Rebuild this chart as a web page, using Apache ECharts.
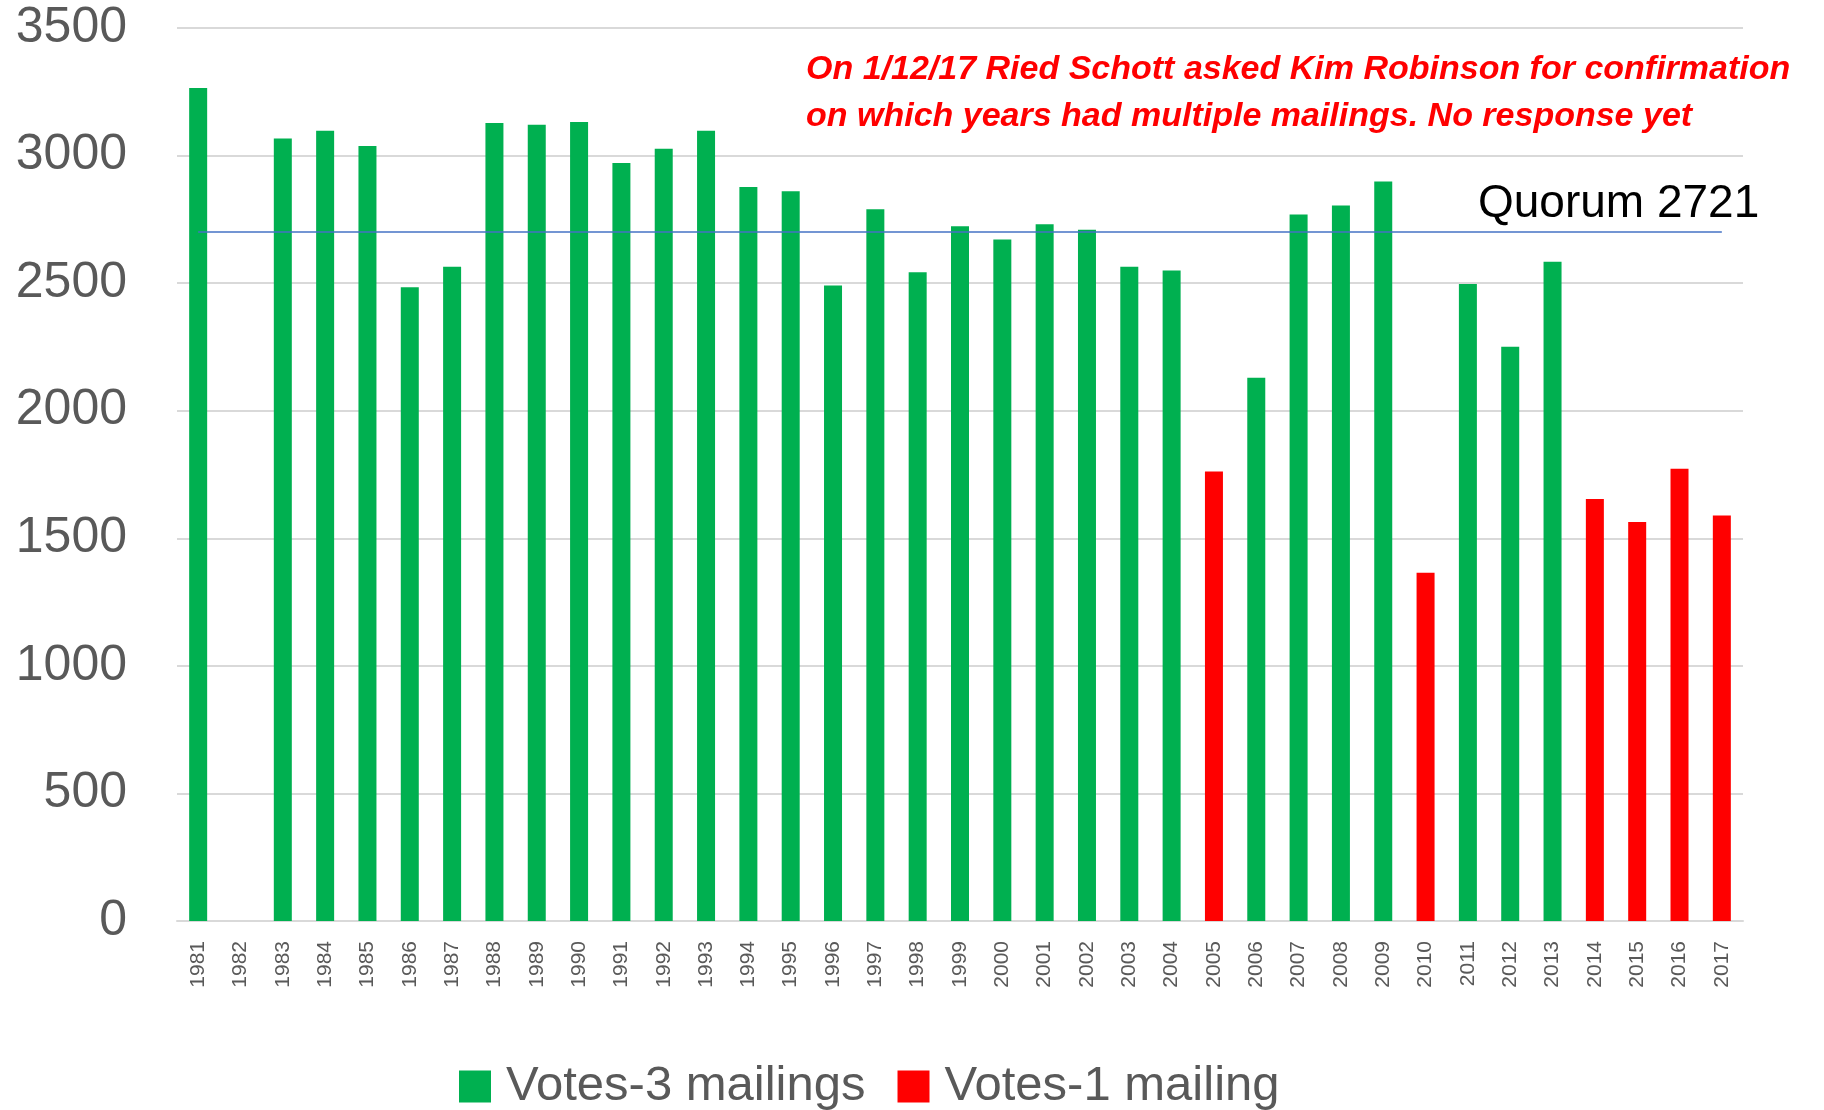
<!DOCTYPE html>
<html>
<head>
<meta charset="utf-8">
<script src="https://cdn.jsdelivr.net/npm/echarts@6/dist/echarts.min.js"></script>
<style>
  html, body { margin: 0; padding: 0; background: #fff; }
  #chart { width: 1824px; height: 1110px; }
</style>
</head>
<body>
<div id="chart"></div>
<script>
const years = [
  "1981", "1982", "1983", "1984", "1985", "1986", "1987", "1988", "1989", "1990",
  "1991", "1992", "1993", "1994", "1995", "1996", "1997", "1998", "1999", "2000",
  "2001", "2002", "2003", "2004", "2005", "2006", "2007", "2008", "2009", "2010",
  "2011", "2012", "2013", "2014", "2015", "2016", "2017"
];
// 3 mailings (green), "-" = no bar
const votes3 = [
  3265, "-", 3067, 3097, 3038, 2484, 2564, 3128, 3121, 3132,
  2971, 3027, 3097, 2877, 2860, 2491, 2790, 2543, 2723, 2671,
  2731, 2709, 2564, 2550, "-", 2129, 2769, 2804, 2898, "-",
  2497, 2251, 2584, "-", "-", "-", "-"
];
// 1 mailing (red)
const votes1 = [
  "-", "-", "-", "-", "-", "-", "-", "-", "-", "-",
  "-", "-", "-", "-", "-", "-", "-", "-", "-", "-",
  "-", "-", "-", "-", 1762, "-", "-", "-", "-", 1365,
  "-", "-", "-", 1654, 1564, 1773, 1589
];
const yTicks = [0, 500, 1000, 1500, 2000, 2500, 3000, 3500];
const quorumLine = 2700;
const quorumText = "Quorum 2721";
const noteLines = [
  "On 1/12/17 Ried Schott asked Kim Robinson for confirmation",
  "on which years had multiple mailings. No response yet"
];

const chart = echarts.init(document.getElementById("chart"));
const font = "Liberation Sans";

const options = {
  animation: false,
  grid: { left: 177, right: 81, top: 28, bottom: 189 },
  legend: {
    left: 454,
    top: 1057,
    itemWidth: 32,
    itemHeight: 32,
    itemGap: 32,
    icon: "rect",
    textStyle: { color: "#595959", fontSize: 49, fontFamily: font, padding: [0, 0, 0, 10] },
    data: ["Votes-3 mailings", "Votes-1 mailing"]
  },
  xAxis: {
    type: "category",
    data: years,
    axisTick: { show: false },
    axisLine: { lineStyle: { color: "#d9d9d9", width: 2 } },
    axisLabel: {
      rotate: 90,
      interval: 0,
      margin: 20,
      color: "#595959",
      fontSize: 21,
      fontFamily: font
    }
  },
  yAxis: {
    type: "value",
    min: yTicks[0],
    max: yTicks[yTicks.length - 1],
    interval: 500,
    axisLine: { show: false },
    axisTick: { show: false },
    splitLine: { lineStyle: { color: "#d9d9d9", width: 2 } },
    axisLabel: {
      color: "#595959",
      fontSize: 50,
      fontFamily: font,
      margin: 50,
      formatter: (v) => String(v)
    }
  },
  series: [
    {
      name: "Votes-3 mailings",
      type: "bar",
      barWidth: 18,
      barGap: "-100%",
      itemStyle: { color: "#00B050" },
      data: votes3,
      markLine: {
        silent: true,
        symbol: "none",
        label: { show: false },
        lineStyle: { color: "#4472C4", width: 1.5, type: "solid" },
        data: [[
          { xAxis: years[0], yAxis: quorumLine },
          { xAxis: years[years.length - 1], yAxis: quorumLine }
        ]]
      }
    },
    {
      name: "Votes-1 mailing",
      type: "bar",
      barWidth: 18,
      barGap: "-100%",
      itemStyle: { color: "#FF0000" },
      data: votes1
    }
  ],
  graphic: [
    {
      type: "text",
      left: 806,
      top: 46,
      style: {
        text: noteLines.join("\n"),
        fill: "#FF0000",
        font: "italic bold 34px 'Liberation Sans'",
        lineHeight: 47
      }
    },
    {
      type: "text",
      left: 1478,
      top: 181,
      style: {
        text: quorumText,
        fill: "#000000",
        font: "46px 'Liberation Sans'"
      }
    }
  ]
};

chart.setOption(options);
window.addEventListener("resize", () => chart.resize());
</script>
</body>
</html>
